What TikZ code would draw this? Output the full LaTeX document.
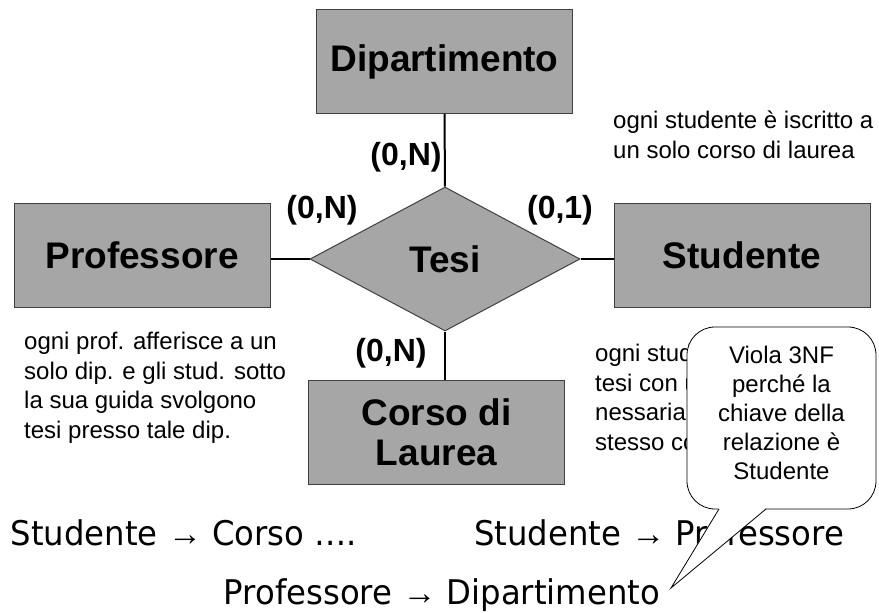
\documentclass[tikz,border=0pt]{standalone}
\usepackage{fontspec}
\setmainfont{Liberation Sans}
\newfontfamily\fdfont[FakeStretch=0.95]{DejaVu Sans}
\newcommand\fdarrow{{\rmfamily →}}
\usetikzlibrary{shapes.geometric}
\definecolor{boxgray}{RGB}{166,166,166}
\definecolor{edgegray}{RGB}{64,64,64}
\tikzset{
    entity/.style={rectangle, draw=edgegray, fill=boxgray, line width=1pt,
        minimum width=256pt, minimum height=104pt, align=center,
        font=\bfseries\fontsize{37}{40}\selectfont},
    relation/.style={diamond, draw=edgegray, fill=boxgray, line width=1pt,
        aspect=1.875, minimum width=270pt, minimum height=144pt, inner sep=0pt,
        font=\bfseries\fontsize{37}{40}\selectfont},
    card/.style={inner sep=0pt, font=\bfseries\fontsize{32}{38}\selectfont},
    remark/.style={anchor=north west, align=left, inner sep=0pt,
        font=\fontsize{24}{29.5}\selectfont},
    link/.style={line width=2pt},
    fdep/.style={anchor=base, inner sep=0pt, font=\fdfont\fontsize{34}{40}\selectfont},
}

\begin{document}
\begin{tikzpicture}[x=1pt, y=-1pt]
    \useasboundingbox (0,0) rectangle (879,613);
    % Draw the entities and the relation
    \node[entity] (dip) at (444.5,61.5) {Dipartimento};
    \node[relation] (tesi) at (445,259) {Tesi};
    \node[entity] (prof) at (142,255) {Professore};
    \node[entity] (stud) at (742,255) {Studente};
    \node[entity] (corso) at (436.5,432) {Corso di\\Laurea};
    % Draw the links
    \draw[link] (dip.south) -- (tesi.north);
    \draw[link] (tesi.west) -- (tesi.west -| prof.east);
    \draw[link] (tesi.east) -- (tesi.east -| stud.west);
    \draw[link] (tesi.south) -- (tesi.south |- corso.north);
    % Draw the cardinalities
    \node[card] (cdip) at (406,157) {(0,N)};
    \node[card] (cprof) at (322,210) {(0,N)};
    \node[card] (cstud) at (560,210) {(0,1)};
    \node[card] (ccorso) at (391,353) {(0,N)};
    % Draw the remarks
    \node[remark] (rstud) at (613,111) {ogni studente è iscritto a\\un solo corso di laurea};
    \node[remark] (rprof) at (24,332) {ogni prof. afferisce a un\\solo dip. e gli stud. sotto\\la sua guida svolgono\\tesi presso tale dip.};
    \node[remark] (rtesi) at (595,344) {ogni studente\\tesi con un\\nessariamente\\stesso corso};
    % Draw the dependencies
    \node[fdep] (fd1) at (184,545) {Studente \fdarrow{} Corso ….};
    \node[fdep] (fd2) at (659,545) {Studente \fdarrow{} Professore};
    \node[fdep] (fd3) at (442,604) {Professore \fdarrow{} Dipartimento};
    % Draw the callout
    \node[draw, fill=white, line width=0.8pt, rounded corners=28pt,
        minimum width=189pt, minimum height=182pt] (bubble) at (781.5,418) {};
    \node[align=center, inner sep=0pt, font=\fontsize{24}{29}\selectfont]
        (bubbletext) at (781.5,413) {Viola 3NF\\perché la\\chiave della\\relazione è\\Studente};
    \coordinate (tip) at (671,588);
    \fill[white] (719,508) -- (tip) -- (766,508) -- cycle;
    \draw[line width=0.8pt] (719,509) -- (tip) -- (766,509);
\end{tikzpicture}
\end{document}
